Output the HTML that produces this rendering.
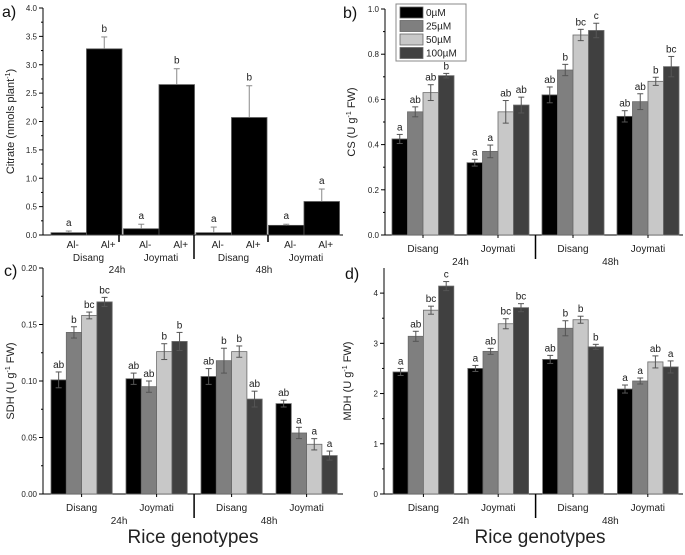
<!DOCTYPE html>
<html><head><meta charset="utf-8"><style>
body{margin:0;background:#fff;}
svg{display:block;font-family:"Liberation Sans",sans-serif;}
</style></head><body>
<svg id="fig" width="685" height="555" xmlns="http://www.w3.org/2000/svg"></svg>
<script>
// Panel a data
const aCats = ["Al-","Al+","Al-","Al+","Al-","Al+","Al-","Al+"];
const aVals = [0.04,3.28,0.11,2.65,0.04,2.07,0.17,0.59];
const aErr = [0.03,0.21,0.08,0.28,0.10,0.56,0.02,0.22];
const aLetters = ["a","b","a","b","a","b","a","a"];
const aTicks = ["0.0","0.5","1.0","1.5","2.0","2.5","3.0","3.5","4.0"];
// Groups
const groupNames = ["Disang","Joymati","Disang","Joymati"];
const seriesNames = ["0µM","25µM","50µM","100µM"];
// Panel b (CS)
const bVals = [[0.425,0.545,0.63,0.705],[0.32,0.37,0.545,0.575],[0.62,0.73,0.885,0.905],[0.525,0.59,0.68,0.745]];
const bErr = [[0.02,0.022,0.035,0.01],[0.015,0.028,0.05,0.035],[0.035,0.025,0.025,0.032],[0.025,0.035,0.018,0.045]];
const bLetters = [["a","ab","ab","b"],["a","a","ab","ab"],["ab","b","bc","c"],["ab","ab","b","bc"]];
const bTicks = ["0.0","0.2","0.4","0.6","0.8","1.0"];
// Panel c (SDH)
const cVals = [[0.101,0.143,0.158,0.170],[0.102,0.095,0.126,0.135],[0.104,0.118,0.126,0.084],[0.080,0.054,0.044,0.034]];
const cErr = [[0.007,0.005,0.003,0.004],[0.005,0.005,0.007,0.008],[0.007,0.011,0.005,0.007],[0.003,0.005,0.005,0.004]];
const cLetters = [["ab","b","bc","bc"],["ab","ab","b","b"],["ab","b","b","ab"],["ab","a","a","a"]];
const cTicks = ["0.00","0.05","0.10","0.15","0.20"];
// Panel d (MDH)
const dVals = [[2.43,3.14,3.66,4.14],[2.50,2.84,3.39,3.71],[2.68,3.30,3.47,2.93],[2.09,2.25,2.63,2.53]];
const dErr = [[0.07,0.10,0.08,0.09],[0.06,0.06,0.10,0.08],[0.08,0.15,0.07,0.05],[0.08,0.06,0.12,0.12]];
const dLetters = [["a","ab","bc","c"],["a","ab","bc","bc"],["ab","b","b","b"],["a","a","ab","a"]];
const dTicks = ["0","1","2","3","4"];

const NS="http://www.w3.org/2000/svg";
const svg=document.getElementById('fig');
const colors=["#000000","#7f7f7f","#c8c8c8","#404040"];
function mk(tag,attrs,parent,text){const e=document.createElementNS(NS,tag);for(const k in attrs)e.setAttribute(k,attrs[k]);if(text!==undefined)e.textContent=text;(parent||svg).appendChild(e);return e;}

function axes(g,x0,y0,x1,ytop,vmax,ticks,minorStep,title,titleX){
  const ys=v=>y0-(v/vmax)*(y0-ytop);
  const ax=mk('line',{x1:x0,y1:y0,x2:x0,y2:ytop,stroke:'#000','stroke-width':1},g);
  
  
  const bx=mk('line',{x1:x0,y1:y0,x2:x1,y2:y0,stroke:'#000','stroke-width':1},g);
  
  
  ticks.forEach(t=>{const v=parseFloat(t),y=ys(v);
    mk('line',{x1:x0-4,y1:y,x2:x0,y2:y,stroke:'#000'},g);
    const tl=mk('text',{x:x0-6,y:y+3,'font-size':8,'text-anchor':'end',fill:'#222'},g,t);
    
    
  });
  for(let v=minorStep;v<vmax;v+=minorStep*2){mk('line',{x1:x0-2,y1:ys(v),x2:x0,y2:ys(v),stroke:'#000'},g);}
  const tt=mk('text',{transform:`translate(${titleX},${(y0+ytop)/2}) rotate(-90)`,'font-size':11,'text-anchor':'middle',fill:'#222'},g);
  
  
  mk('tspan',{},tt,title[0]);mk('tspan',{dy:-4,'font-size':7},tt,'-1');mk('tspan',{dy:4},tt,title[1]);
  return ys;
}

function groupPanel(name,x0,y0,x1,ytop,vmax,ticks,minor,vals,errs,letters,title,titleX,gStart,gStep,barW,rice){
  const g=mk('g',{},svg);
  
  
  const ys=axes(g,x0,y0,x1,ytop,vmax,ticks,minor,title,titleX);
  vals.forEach((grp,gi)=>{grp.forEach((v,si)=>{
    const bx=gStart+gi*gStep+si*barW;
    const r=mk('rect',{x:bx,y:ys(v),width:barW,height:y0-ys(v),fill:colors[si],stroke:'#6a6a6a','stroke-width':0.8},g);
    
    
    const cx=bx+barW/2,e=errs[gi][si];
    mk('line',{x1:cx,y1:ys(v+e),x2:cx,y2:ys(v-e),stroke:'#555'},g);
    mk('line',{x1:cx-3,y1:ys(v+e),x2:cx+3,y2:ys(v+e),stroke:'#555'},g);
    mk('line',{x1:cx-3,y1:ys(v-e),x2:cx+3,y2:ys(v-e),stroke:'#555'},g);
    const l=mk('text',{x:cx,y:ys(v+e)-4,'font-size':10,'text-anchor':'middle',fill:'#222'},g,letters[gi][si]);
    
    
  });
    const gl=mk('text',{x:gStart+gi*gStep+2*barW,y:y0+17,'font-size':10,'text-anchor':'middle',fill:'#222'},g,groupNames[gi]);
    
    
    mk('line',{x1:gStart+gi*gStep+2*barW,y1:y0,x2:gStart+gi*gStep+2*barW,y2:y0+3,stroke:'#000'},g);
  });
  const div=gStart+2*gStep-(gStep-4*barW)/2;
  mk('line',{x1:div,y1:y0,x2:div,y2:y0+24,stroke:'#000','stroke-width':1.5},g);
  const t1=mk('text',{x:gStart+gStep-(gStep-4*barW)/2,y:y0+30,'font-size':10,'text-anchor':'middle',fill:'#222'},g,'24h');
  
  
  const t2=mk('text',{x:gStart+3*gStep-(gStep-4*barW)/2,y:y0+30,'font-size':10,'text-anchor':'middle',fill:'#222'},g,'48h');
  
  
  if(rice){const rt=mk('text',{x:rice,y:y0+49,'font-size':19,'text-anchor':'middle',fill:'#222'},g,'Rice genotypes');
    
    }
  return g;
}

// Panel a
(function(){
  const g=mk('g',{},svg);
  
  
  const x0=43,y0=235,ytop=8;
  const ys=axes(g,x0,y0,343,ytop,4,aTicks,0.25,['Citrate (nmols plant',')'],14);
  const bw=35.5,start=51,gs=72.5;
  aVals.forEach((v,i)=>{
    const gi=Math.floor(i/2),bx=start+gi*gs+(i%2)*bw;
    const r=mk('rect',{x:bx,y:ys(v),width:bw,height:y0-ys(v),fill:'#000',stroke:'#555','stroke-width':0.8},g);
    
    
    const cx=bx+bw/2,e=aErr[i];
    mk('line',{x1:cx,y1:ys(v),x2:cx,y2:ys(v+e),stroke:'#888'},g);
    mk('line',{x1:cx-3,y1:ys(v+e),x2:cx+3,y2:ys(v+e),stroke:'#888'},g);
    const l=mk('text',{x:cx,y:ys(v+e)-5,'font-size':10,'text-anchor':'middle',fill:'#222'},g,aLetters[i]);
    
    
    const tl=mk('text',{x:cx+4,y:y0+13,'font-size':10,'text-anchor':'middle',fill:'#222'},g,aCats[i]);
    
    
  });
  groupNames.forEach((n,gi)=>{const t=mk('text',{x:start+gi*gs+bw+2,y:y0+26,'font-size':10,'text-anchor':'middle',fill:'#222'},g,n);
    
    });
  mk('line',{x1:119,y1:y0,x2:119,y2:y0+7,stroke:'#000','stroke-width':1.5},g);
  mk('line',{x1:194,y1:y0,x2:194,y2:y0+24,stroke:'#000','stroke-width':1.5},g);
  mk('line',{x1:268,y1:y0,x2:268,y2:y0+7,stroke:'#000','stroke-width':1.5},g);
  mk('text',{x:117,y:y0+38,'font-size':10,'text-anchor':'middle',fill:'#222'},g,'24h');
  mk('text',{x:264,y:y0+38,'font-size':10,'text-anchor':'middle',fill:'#222'},g,'48h');
})();

groupPanel('panel-b-cs',385,235,683,9,1.0,bTicks,0.1,bVals,bErr,bLetters,['CS (U g',' FW)'],355,392,75,15.5,null);
groupPanel('panel-c-sdh',43,494,343,268,0.2,cTicks,0.025,cVals,cErr,cLetters,['SDH (U g',' FW)'],14,51,75,15.3,193);
groupPanel('panel-d-mdh',384,494,683,268,4.5,dTicks,0.5,dVals,dErr,dLetters,['MDH (U g',' FW)'],351,393,74.8,15.2,540);

// Legend
(function(){
  const g=mk('g',{},svg);
  
  
  mk('rect',{x:396,y:4,width:70,height:57,fill:'#fff',stroke:'#888'},g);
  seriesNames.forEach((n,i)=>{
    const s=mk('rect',{x:400,y:7+i*13.5,width:23,height:11,fill:colors[i],stroke:'#666','stroke-width':0.8},g);
    
    
    const t=mk('text',{x:426,y:16+i*13.5,'font-size':10,fill:'#222'},g,n);
    
    
  });
})();

// panel labels
[['a)',2,17],['b)',343,18],['c)',4,276],['d)',345,279]].forEach(p=>{
  const t=mk('text',{x:p[1],y:p[2],'font-size':16,fill:'#111'},svg,p[0]);
  
  
});
</script>
</body></html>
